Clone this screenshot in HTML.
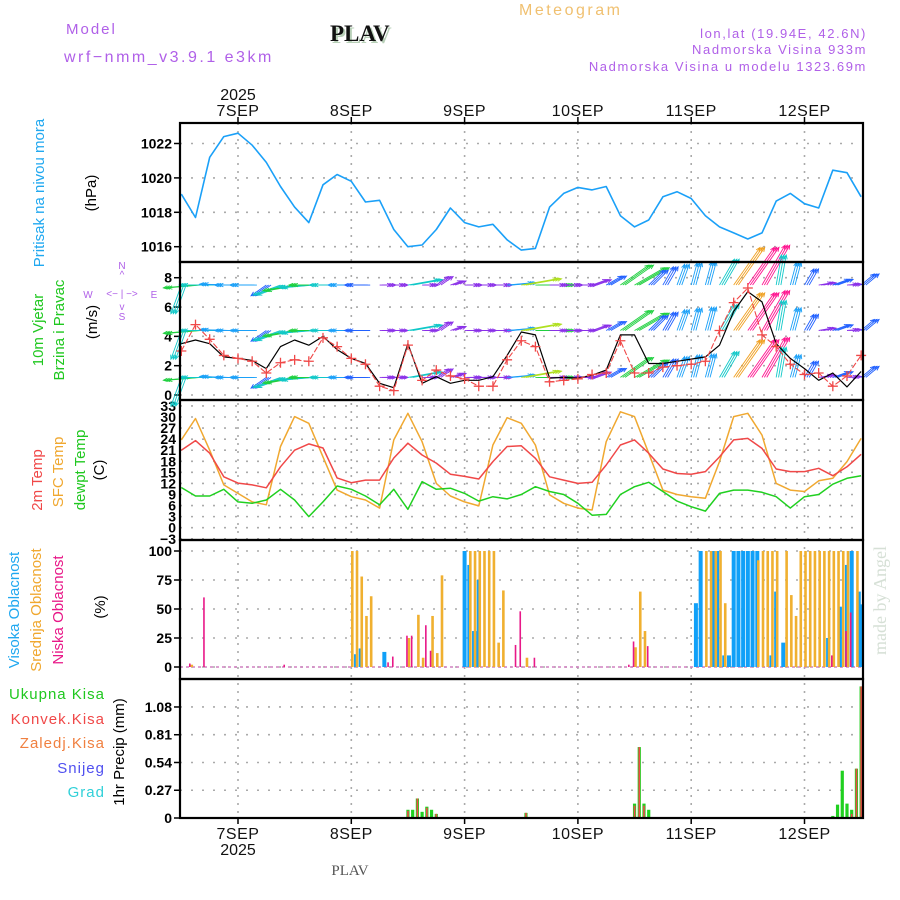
<!DOCTYPE html>
<html><head><meta charset="utf-8"><style>
html,body{margin:0;padding:0;background:#fff}
svg{display:block}
text{font-family:"Liberation Sans",sans-serif}
text.serif{font-family:"Liberation Serif",serif}
</style></head><body>
<svg id="chart" width="900" height="900" viewBox="0 0 900 900" xmlns="http://www.w3.org/2000/svg">
<g>
<text x="66" y="34" font-size="15" fill="#b060e8" letter-spacing="2">Model</text>
<text x="64" y="62" font-size="16" fill="#b060e8" letter-spacing="2.5">wrf−nmm_v3.9.1 e3km</text>
<text class="serif" x="332" y="43" font-size="23" font-weight="bold" fill="#b8d0b8">PLAV</text>
<text class="serif" x="330" y="41" font-size="23" font-weight="bold" fill="#111">PLAV</text>
<text x="519" y="15" font-size="16" fill="#f0c070" letter-spacing="2.5">Meteogram</text>
<text x="867" y="38" font-size="13" fill="#b060e8" text-anchor="end" letter-spacing="1.6">lon,lat (19.94E, 42.6N)</text>
<text x="867" y="54" font-size="13" fill="#b060e8" text-anchor="end" letter-spacing="1.6">Nadmorska Visina 933m</text>
<text x="867" y="71" font-size="13" fill="#b060e8" text-anchor="end" letter-spacing="1.6">Nadmorska Visina u modelu 1323.69m</text>
<text class="serif" transform="translate(886,655) rotate(-90)" font-size="18" fill="#d6e0d6">made by Angel</text>
<text class="serif" x="350" y="875" font-size="15" fill="#555" text-anchor="middle">PLAV</text>
</g>
<g>
<text transform="translate(44,193) rotate(-90)" font-size="15" fill="#20a8f0" text-anchor="middle">Pritisak na nivou mora</text>
<text transform="translate(96,193) rotate(-90)" font-size="15" fill="#000" text-anchor="middle">(hPa)</text>
<text transform="translate(43,330) rotate(-90)" font-size="15" fill="#20c820" text-anchor="middle">10m Vjetar</text>
<text transform="translate(64,330) rotate(-90)" font-size="15" fill="#20c820" text-anchor="middle">Brzina i Pravac</text>
<text transform="translate(97,322) rotate(-90)" font-size="15" fill="#000" text-anchor="middle">(m/s)</text>
<g font-size="10" fill="#b060e8">
<text x="122" y="269" text-anchor="middle">N</text>
<text x="122" y="278" text-anchor="middle">^</text>
<text x="122" y="297" text-anchor="middle">&lt;− | −&gt;</text>
<text x="88" y="298" text-anchor="middle">W</text>
<text x="154" y="298" text-anchor="middle">E</text>
<text x="122" y="310" text-anchor="middle">v</text>
<text x="122" y="320" text-anchor="middle">S</text>
</g>
<text transform="translate(42,480) rotate(-90)" font-size="15" fill="#f04848" text-anchor="middle">2m Temp</text>
<text transform="translate(63,472) rotate(-90)" font-size="15" fill="#f0a830" text-anchor="middle">SFC Temp</text>
<text transform="translate(85,470) rotate(-90)" font-size="15" fill="#20c820" text-anchor="middle">dewpt Temp</text>
<text transform="translate(104,470) rotate(-90)" font-size="15" fill="#000" text-anchor="middle">(C)</text>
<text transform="translate(19,610) rotate(-90)" font-size="15" fill="#20a8f0" text-anchor="middle">Visoka Oblacnost</text>
<text transform="translate(41,610) rotate(-90)" font-size="15" fill="#f0a830" text-anchor="middle">Srednja Oblacnost</text>
<text transform="translate(63,610) rotate(-90)" font-size="15" fill="#e81888" text-anchor="middle">Niska Oblacnost</text>
<text transform="translate(105,607) rotate(-90)" font-size="15" fill="#000" text-anchor="middle">(%)</text>
<text x="105" y="699" font-size="15" fill="#20c820" text-anchor="end" letter-spacing="1">Ukupna Kisa</text>
<text x="105" y="724" font-size="15" fill="#f04848" text-anchor="end" letter-spacing="1">Konvek.Kisa</text>
<text x="105" y="748" font-size="15" fill="#f08040" text-anchor="end" letter-spacing="1">Zaledj.Kisa</text>
<text x="105" y="773" font-size="15" fill="#5050f0" text-anchor="end" letter-spacing="1">Snijeg</text>
<text x="105" y="797" font-size="15" fill="#30d0d8" text-anchor="end" letter-spacing="1">Grad</text>
<text transform="translate(124,752) rotate(-90)" font-size="15" fill="#000" text-anchor="middle">1hr Precip (mm)</text>
</g>
<g id="plot"></g>
</svg>
<script>
// time axis: hours since 7 SEP 00Z
const hours = [-12,-9,-6,-3,0,3,6,9,12,15,18,21,24,27,30,33,36,39,42,45,48,51,54,57,60,63,66,69,72,75,78,81,84,87,90,93,96,99,102,105,108,111,114,117,120,123,126,129,132];
const dayLabels = ['7SEP','8SEP','9SEP','10SEP','11SEP','12SEP'];
const dayHours = [0,24,48,72,96,120];
const pressure = [1019.06,1017.7,1021.2,1022.4,1022.6,1021.9,1020.9,1019.5,1018.3,1017.4,1019.6,1020.2,1019.8,1018.6,1018.7,1017.0,1016.0,1016.1,1017.0,1018.25,1017.4,1017.15,1017.3,1016.4,1015.8,1015.9,1018.3,1019.1,1019.45,1019.3,1019.5,1017.8,1017.15,1017.55,1018.9,1019.2,1018.8,1017.8,1017.15,1016.8,1016.45,1016.8,1018.65,1019.1,1018.5,1018.25,1020.45,1020.3,1018.9];
const windSpeed = [3.5,3.75,3.5,2.6,2.5,2.35,1.8,3.3,3.75,3.4,4.0,3.1,2.5,2.15,0.8,0.5,3.5,0.8,1.25,0.8,1.0,1.0,1.25,2.7,4.3,4.1,1.15,1.2,1.15,1.35,1.7,4.1,4.1,2.15,2.15,2.3,2.45,2.6,3.4,5.7,7.05,6.35,3.5,2.5,1.8,1.0,1.5,0.55,1.6];
const windGust = [3.0,4.8,3.8,2.7,2.5,2.3,1.5,2.2,2.4,2.3,3.9,3.3,2.5,2.1,0.6,0.3,3.4,1.0,1.7,1.3,1.1,0.6,0.6,2.4,3.7,3.3,0.9,1.0,1.1,1.4,1.5,3.7,1.5,1.5,1.9,2.0,2.1,2.3,4.4,6.3,7.3,4.1,3.3,2.1,1.4,1.5,0.6,1.3,2.7];
const windDir = [250,185,180,178,180,180,215,200,190,185,180,180,180,180,0,0,10,0,35,20,0,0,0,5,10,0,0,0,0,20,30,35,30,45,60,70,75,75,60,55,55,60,80,75,60,10,20,5,40];
const temp2m = [21,23.6,20.2,13.8,12.1,11.6,10.8,16.5,21,22.7,21.6,13.5,12.2,12.9,12.9,18.9,22.9,19.7,17.5,14.5,13.9,13.2,17.9,22,22.2,18.8,13.8,12.9,12,12.3,17,22.4,23.8,20.2,15.9,14.7,14.5,15.2,19.2,23.8,24.2,21.5,15.9,15.2,15.2,16.1,14.1,16.5,19.9];
const tempSfc = [23.8,29.6,21,11.6,9.3,7,6.2,22,30.1,28.3,19.2,10.2,8.4,7.5,5.3,23.8,31,23.3,12,8.6,7,5.9,22.4,29.8,28.3,22.4,8.9,6.6,5.3,4.8,23.3,31.4,30.1,20.2,10.2,9,8.4,8,17.9,30.1,31,25.1,12,10.2,9.8,12.7,13.4,17.9,24.2];
const tempDew = [10.9,8.6,8.6,10.4,7,6.6,7.5,10.4,7.5,3,7,11.3,10.4,8.6,6.2,10.4,5,12.5,10.4,10.7,9.3,7.2,8.4,7.8,9,11.1,9.8,9,6.6,3.4,3.6,9,11.1,12.3,9.8,7.2,5.7,4.5,9.3,10.2,10.2,9.6,8.4,5.3,8.4,9,11.8,13.4,14.1];
const highHours = [25,26,31,48,49,50,50.6,51,97,98,100.6,101.5,103,104,105,106,107,108,109,110,113,114,115.5,125,127.5,129,130,131.5,132];
const highCloud = [11,16,13,100,88,31,31,75,55,100,100,100,10,10,100,100,100,100,100,100,10,65,21,25,52,88,100,65,54];
const midHours = [-10,24,25,26,27,28,36,38,39,41,42,43,49,50,51,52,53,54,55,56,61,84,85,86,99,100,101,102,103,110,111,112,113,114,116,117,118,119,120,121,122,123,124,125,126,127,128,129,131];
const midCloud = [2,100,100,78,44,61,25,45,8,44,12,79,100,100,100,100,100,100,21,66,8,17,65,31,100,100,100,100,55,92,100,100,100,100,100,62,44,100,100,100,100,100,100,100,100,100,100,100,100];
const lowHours = [-10,-7,10,32,33,36,37,40,41,59,60,63,83,84,87,126,129,130];
const lowCloud = [3,60,2,4,9,27,27,36,14,19,48,8,2,22,18,10,31,47];
const precipHours = [36,37,38,39,40,41,42,61,84,85,86,87,126,127,128,129,130,131,132];
const precipTotal = [0.08,0.08,0.19,0.06,0.11,0.08,0.04,0.05,0.14,0.69,0.14,0.08,0.02,0.13,0.46,0.14,0.08,0.48,1.28];
const precipConv = [0.07,0,0.19,0,0.1,0,0.04,0.05,0.12,0.69,0.12,0,0,0,0,0,0.04,0.48,1.28];
const pTicks = [1016,1018,1020,1022];
const wTicks = [0,2,4,6,8];
const tTicks = [-3,0,3,6,9,12,15,18,21,24,27,30,33];
const cTicks = [0,25,50,75,100];
const rTicks = [0,0.27,0.54,0.81,1.08];

const NS='http://www.w3.org/2000/svg';
const plot=document.getElementById('plot');
function mk(tag,attrs,parent){const e=document.createElementNS(NS,tag);for(const k in attrs)e.setAttribute(k,attrs[k]);(parent||plot).appendChild(e);return e;}
const X0=180,X1=863;
const xT=t=>238+t*(113.3/24);
const yP=p=>143.5+(1022-p)*17.2;
const yW=v=>395-v*14.66;
const yT=T=>527.7-T*3.69;
const yC=c=>667-c*1.16;
const yR=r=>818-r*102.8;
const panels=[[123,262],[262,400],[400,540],[540,679],[679,818]];

const grid=mk('g',{});


function hgrid(vals,fy,fmt){vals.forEach(v=>{const y=fy(v);
  const l=mk('line',{x1:X0,x2:X1,y1:y,y2:y,stroke:'#aaa','stroke-width':1.6,'stroke-dasharray':'2,9'},grid);
  
  
  mk('line',{x1:X0-6,x2:X0,y1:y,y2:y,stroke:'#000','stroke-width':1.5},grid);
  const t=mk('text',{x:X0-8,y:y+5,'text-anchor':'end','font-size':14,'font-weight':'bold',fill:'#000'},grid);
  
  
  t.textContent=fmt?fmt(v):v;});}
hgrid(pTicks,yP);hgrid(wTicks,yW);
tTicks.forEach(v=>{const y=yT(v);
  mk('line',{x1:X0,x2:X1,y1:y,y2:y,stroke:'#aaa','stroke-width':1.6,'stroke-dasharray':'2,9'},grid);
  const t=mk('text',{x:X0-4,y:y+5,'text-anchor':'end','font-size':14,'font-weight':'bold',fill:'#000'},grid);
  
  
  t.textContent=v<0?'−'+(-v):v;});
hgrid(cTicks,yC);hgrid(rTicks,yR,v=>v===0?'0':v.toFixed(2));
dayHours.forEach((h,i)=>{const x=xT(h);
  mk('line',{x1:x,x2:x,y1:123,y2:818,stroke:'#aaa','stroke-width':1.6,'stroke-dasharray':'2,6'},grid);
  mk('line',{x1:x,x2:x,y1:117,y2:123,stroke:'#000','stroke-width':1.5},grid);
  mk('line',{x1:x,x2:x,y1:818,y2:824,stroke:'#000','stroke-width':1.5},grid);
  const a=mk('text',{x:x,y:116,'text-anchor':'middle','font-size':16,fill:'#111','letter-spacing':'0.5'},grid);
  
  
  a.textContent=dayLabels[i];
  const b=mk('text',{x:x,y:839,'text-anchor':'middle','font-size':16,fill:'#111','letter-spacing':'0.5'},grid);
  
  
  b.textContent=dayLabels[i];});
const y1=mk('text',{x:xT(0),y:100,'text-anchor':'middle','font-size':16,fill:'#111'},grid);y1.textContent='2025';
const y2=mk('text',{x:xT(0),y:855,'text-anchor':'middle','font-size':16,fill:'#111'},grid);y2.textContent='2025';

function line(xs,ys,color,w,name,dash){const pts=xs.map((x,i)=>x.toFixed(1)+','+ys[i].toFixed(1)).join(' ');
  const p=mk('polyline',{points:pts,fill:'none',stroke:color,'stroke-width':w,'stroke-linejoin':'round'});
  if(dash)p.setAttribute('stroke-dasharray',dash);
  
  return p;}
const xs=hours.map(xT);
line(xs,pressure.map(yP),'#1aa0f8',1.6,'pressure-line');

function spdColor(s){if(s<1.5)return '#8a30e8';if(s<2.3)return '#2060ff';if(s<3)return '#1aa0f8';if(s<3.6)return '#10c8c8';if(s<4.2)return '#20d040';if(s<5)return '#b0e020';if(s<6)return '#f0a020';return '#ff1490';}
const rows=[7.5,4.4,1.2];
const wg=mk('g',{});


rows.forEach(r=>{const y0=yW(r);
  hours.forEach((h,i)=>{const s=windSpeed[i],L=Math.min(6+s*7,46),a=windDir[i]*Math.PI/180;
    const x0=xT(h),x1=x0+L*Math.cos(a),yy=y0-L*Math.sin(a),c=spdColor(s);
    const g=mk('g',{stroke:c,'stroke-width':0.9,fill:'none'},wg);
    
    
    for(let k=0;k<3;k++){const dx=k*4.72*0.5;
      mk('line',{x1:x0+dx,y1:y0,x2:x1+dx,y2:yy},g);
      const ha=0.4,hl=4.5;
      mk('polyline',{points:`${x1+dx-hl*Math.cos(a-ha)},${yy+hl*Math.sin(a-ha)} ${x1+dx},${yy} ${x1+dx-hl*Math.cos(a+ha)},${yy+hl*Math.sin(a+ha)}`},g);}
  });});
line(xs,windSpeed.map(yW),'#000',1.2,'wind-speed-line');
line(xs,windGust.map(yW),'#f04848',1.1,'wind-gust-line','6,2');
hours.forEach((h,i)=>{const x=xT(h),y=yW(windGust[i]);
  const p=mk('path',{d:`M${x-5},${y}H${x+5}M${x},${y-5}V${y+5}`,stroke:'#f04848','stroke-width':1.3});
  
  });

line(xs,tempSfc.map(yT),'#f0a830',1.5,'sfc-temp-line');
line(xs,temp2m.map(yT),'#f04848',1.5,'2m-temp-line');
line(xs,tempDew.map(yT),'#20d020',1.5,'dewpoint-line');

function bars(hs,vals,fy,color,w,name,off){hs.forEach((h,i)=>{const x=xT(h)+(off||0),y=fy(vals[i]),y0=fy(0);
  const r=mk('rect',{x:x-w/2,y:Math.min(y,y0),width:w,height:Math.abs(y0-y),fill:color});
  
  });}
mk('line',{x1:X0,x2:X1,y1:yC(0),y2:yC(0),stroke:'#d080c0','stroke-width':1.5,'stroke-dasharray':'3,3'});
bars(highHours,highCloud,yC,'#10a0f8',4,'high-cloud-bar');
bars(midHours,midCloud,yC,'#f0b030',2.6,'mid-cloud-bar',1);
bars(lowHours,lowCloud,yC,'#e81888',1.6,'low-cloud-bar',-1);
mk('line',{x1:X0,x2:X1,y1:818,y2:818,stroke:'#000','stroke-width':2,'stroke-dasharray':'4,2'});
bars(precipHours,precipTotal,yR,'#20d020',3.2,'total-precip-bar');
bars(precipHours,precipConv,yR,'#f04848',1.6,'convective-precip-bar');

panels.forEach(([t,b],i)=>{
  const r=mk('rect',{x:X0,y:t,width:X1-X0,height:b-t,fill:'none',stroke:'#000','stroke-width':2.2});
  
  });
</script>
</body></html>
